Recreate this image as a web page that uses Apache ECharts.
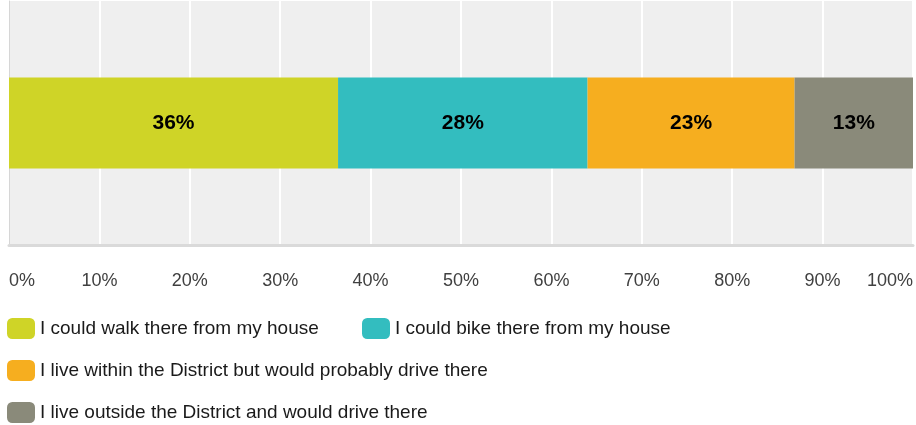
<!DOCTYPE html>
<html><head><meta charset="utf-8">
<script src="https://cdn.jsdelivr.net/npm/echarts@6/dist/echarts.min.js"></script>
<style>html,body{margin:0;padding:0;background:#fff}#c{width:916px;height:425px}</style>
</head><body><div id="c"></div>
<script>
const categories = ['Q'];
const seriesNames = [
  'I could walk there from my house',
  'I could bike there from my house',
  'I live within the District but would probably drive there',
  'I live outside the District and would drive there'
];
const seriesValues = [36.4, 27.6, 22.9, 13.1];
const seriesColors = ['#cfd427', '#33bdbf', '#f6ae1f', '#8a8a7a'];
const tickLabels = ['0%','10%','20%','30%','40%','50%','60%','70%','80%','90%','100%'];

const legendPos = [[7,318],[362,318],[7,360],[7,402]];
const chart = echarts.init(document.getElementById('c'));
chart.setOption({
  animation: false,
  grid: {left: 9, right: 2, top: 1, bottom: 180, show: true, backgroundColor: '#efefef', borderWidth: 0},
  xAxis: {
    type: 'value', min: 0, max: 100, interval: 10,
    axisLine: {show: true, lineStyle: {color: '#dadada', width: 3}},
    axisTick: {show: false},
    splitLine: {show: true, lineStyle: {color: '#ffffff', width: 2}},
    axisLabel: {
      margin: 27, color: '#404040', fontSize: 18, fontFamily: 'Liberation Sans, Arial, sans-serif',
      alignMinLabel: 'left', alignMaxLabel: 'right',
      formatter: (v) => tickLabels[Math.round(v / 10)]
    }
  },
  yAxis: {
    type: 'category', data: categories,
    axisLine: {show: true, lineStyle: {color: '#d6d6d6', width: 1}},
    axisTick: {show: false}, axisLabel: {show: false}
  },
  legend: seriesNames.map((n, i) => ({
    data: [n], left: legendPos[i][0], top: legendPos[i][1],
    itemWidth: 28, itemHeight: 21, icon: 'roundRect', padding: 0, itemGap: 0,
    textStyle: {fontSize: 19, color: '#1a1a1a', fontFamily: 'Liberation Sans, Arial, sans-serif', padding: [0, 0, 6, 0]}
  })),
  series: seriesNames.map((n, i) => ({
    name: n, type: 'bar', stack: 'all', barWidth: 91,
    itemStyle: {color: seriesColors[i]},
    label: {show: true, position: 'inside', color: '#000', fontWeight: 'bold', fontSize: 21,
      fontFamily: 'Liberation Sans, Arial, sans-serif',
      formatter: (p) => Math.round(p.value) + '%'},
    data: [seriesValues[i]]
  }))
});
</script></body></html>
